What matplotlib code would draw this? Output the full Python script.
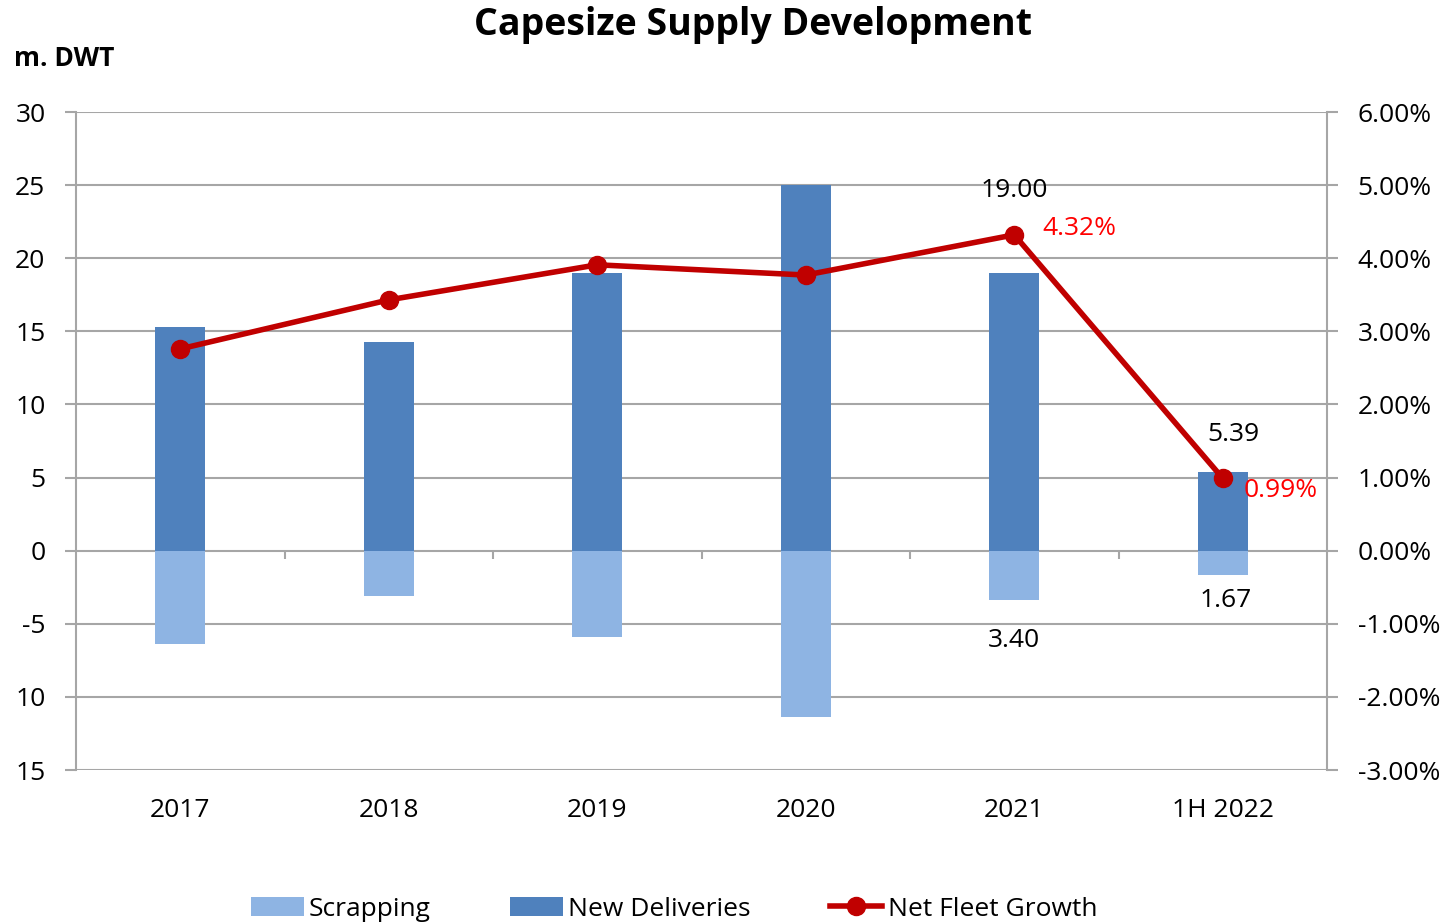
import matplotlib.pyplot as plt
import numpy as np

plt.rcParams['font.family'] = ['Open Sans', 'DejaVu Sans']

# ---------------------------------------------------------------------------
# Data (m. DWT and % net fleet growth)
# ---------------------------------------------------------------------------
categories = ['2017', '2018', '2019', '2020', '2021', '1H 2022']
new_deliveries = [15.3, 14.3, 19.0, 25.0, 19.00, 5.39]
scrapping = [6.4, 3.1, 5.9, 11.4, 3.40, 1.67]
net_growth = [2.76, 3.43, 3.91, 3.77, 4.32, 0.99]

left_ticks = [30, 25, 20, 15, 10, 5, 0, -5, -10, -15]
left_labels = ['30', '25', '20', '15', '10', '5', '0', '-5', '10', '15']
right_ticks = [6, 5, 4, 3, 2, 1, 0, -1, -2, -3]

C_NEW = '#4F81BD'
C_SCRAP = '#8EB4E3'
C_LINE = '#C00000'
C_GRID = '#A6A6A6'

fig = plt.figure(figsize=(14.56, 9.24), dpi=100)
ax = fig.add_axes([76 / 1456, 1 - 770 / 924, (1327 - 76) / 1456, (770 - 112) / 924])
x = np.arange(len(categories))
w = 0.24

b_scrap = ax.bar(x, [-s for s in scrapping], w, color=C_SCRAP, zorder=2, label='Scrapping')
b_new = ax.bar(x, new_deliveries, w, color=C_NEW, zorder=2, label='New Deliveries')

ax.set_xlim(-0.5, len(categories) - 0.5)
ax.set_ylim(-15, 30)
ax.set_yticks(left_ticks)
ax.set_yticklabels(left_labels)
ax.yaxis.grid(True, color=C_GRID, linewidth=1.5, zorder=0)
ax.set_axisbelow(True)
for s in ['top', 'bottom']:
    ax.spines[s].set_visible(False)
for s in ['left', 'right']:
    ax.spines[s].set_color(C_GRID)
    ax.spines[s].set_linewidth(1.5)
ax.tick_params(axis='y', length=8, width=1.5, color=C_GRID, labelsize=19, pad=14)
ax.set_xticks(x)
ax.set_xticklabels(categories)
ax.tick_params(axis='x', length=0, labelsize=19, pad=20)

# tick marks on the zero line between categories
sec = ax.secondary_xaxis(1 / 3)
sec.set_xticks(np.arange(0.5, len(categories) - 1, 1.0))
sec.set_xticklabels([])
sec.tick_params(length=6, width=1.5, color=C_GRID)
sec.spines['bottom'].set_visible(False)

ax2 = ax.twinx()
ax2.set_ylim(-3, 6)
ax2.set_yticks(right_ticks)
ax2.set_yticklabels([f'{t:.2f}%' for t in right_ticks])
ax2.tick_params(axis='y', length=8, width=1.5, color=C_GRID, labelsize=19, pad=14)
for s in ['top', 'bottom', 'left', 'right']:
    ax2.spines[s].set_visible(False)
ln, = ax2.plot(x, net_growth, color=C_LINE, linewidth=4, marker='o', markersize=13,
               zorder=3, label='Net Fleet Growth')

# data labels for 2021 and 1H 2022 (offsets in pixels, as Excel placed them)
def px(dx, dy):
    return dx * 0.72, dy * 0.72

ax.annotate(f'{new_deliveries[4]:.2f}', (x[4], new_deliveries[4]), xytext=px(0, 82),
            textcoords='offset points', ha='center', va='center', fontsize=19)
ax.annotate(f'{new_deliveries[5]:.2f}', (x[5], new_deliveries[5]), xytext=px(11, 37),
            textcoords='offset points', ha='center', va='center', fontsize=19)
ax.annotate(f'{scrapping[4]:.2f}', (x[4], -scrapping[4]), xytext=px(0, -40),
            textcoords='offset points', ha='center', va='center', fontsize=19)
ax.annotate(f'{scrapping[5]:.2f}', (x[5], -scrapping[5]), xytext=px(3, -25),
            textcoords='offset points', ha='center', va='center', fontsize=19)
ax2.annotate(f'{net_growth[4]:.2f}%', (x[4], net_growth[4]), xytext=px(28, 6),
             textcoords='offset points', ha='left', va='center', fontsize=19, color='#FF0000')
ax2.annotate(f'{net_growth[5]:.2f}%', (x[5], net_growth[5]), xytext=px(21, -12),
             textcoords='offset points', ha='left', va='center', fontsize=19, color='#FF0000')

fig.text(753 / 1456, 1 - 25 / 924, 'Capesize Supply Development', ha='center', va='center',
         fontsize=27, fontweight='bold')
fig.text(14 / 1456, 1 - 58 / 924, 'm. DWT', ha='left', va='center', fontsize=19,
         fontweight='bold')

fig.legend(handles=[b_scrap, b_new, ln], loc='center', bbox_to_anchor=(674 / 1456, 1 - 909 / 924),
           ncol=3, frameon=False, fontsize=19, handlelength=2.0, handletextpad=0.2,
           columnspacing=3.0, borderaxespad=0)

fig.savefig('out.png', dpi=100)
